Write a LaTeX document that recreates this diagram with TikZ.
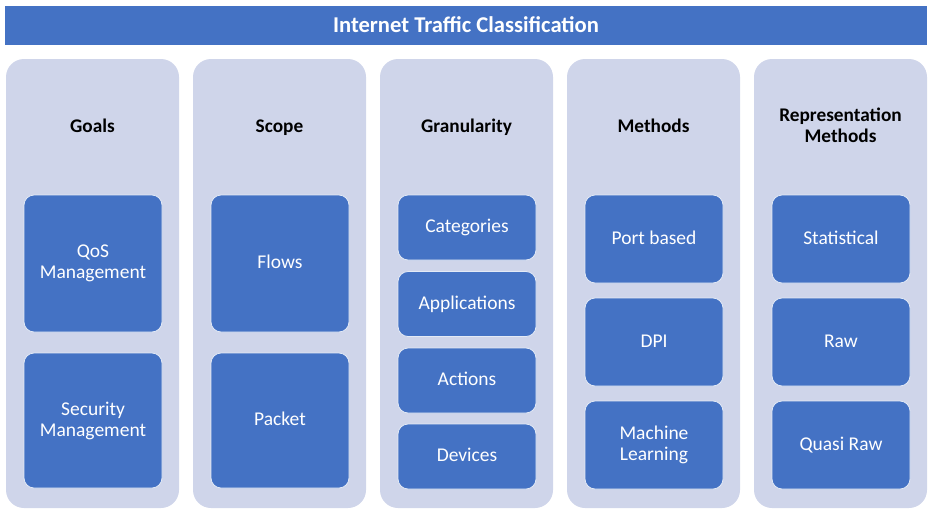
\documentclass[tikz,border=0pt]{standalone}
\usepackage{fontspec}
\setmainfont{Carlito}
\definecolor{barblue}{HTML}{4472C4}
\definecolor{panel}{HTML}{CFD5EA}
\begin{document}
\begin{tikzpicture}[x=1pt,y=-1pt,
  titlebar/.style={fill=barblue,draw=none,minimum width=922pt,minimum height=39pt,inner sep=0pt,text=white,font=\fontsize{22.6}{26}\selectfont\bfseries,text height=18.5pt,text depth=4pt},
  panelbox/.style={fill=panel,draw=none,rounded corners=18pt,minimum width=173pt,minimum height=449pt,inner sep=0pt},
  header/.style={align=center,font=\fontsize{19.3}{21}\selectfont\bfseries,text=black},
  hline/.style={text height=16.4pt,text depth=4pt},
  iline/.style={text height=14.3pt,text depth=4pt},
  item/.style={fill=barblue,draw=white!85!barblue,line width=0.8pt,rounded corners=10pt,minimum width=138pt,inner sep=0pt,align=center,text=white,font=\fontsize{19.5}{21}\selectfont}
]
\useasboundingbox (0,0) rectangle (928,509);
\node[titlebar] (title) at (466,25.5) {Internet Traffic Classification};

\foreach \n/\x in {c1/92.5,c2/279.5,c3/466.5,c4/653.5,c5/840.5}
  \node[panelbox] (\n) at (\x,283.5) {};

\node[header,hline] (h1) at (92.5,126) {Goals};
\node[header,hline] (h2) at (279.5,126) {Scope};
\node[header,hline] (h3) at (466.5,126) {Granularity};
\node[header,hline] (h4) at (653.5,126) {Methods};
\node[header] (h5) at (840.5,125.5) {Representation\\Methods};

\node[item,minimum height=137pt] (g1) at (93,263.5) {QoS\\Management};
\node[item,minimum height=135pt] (g2) at (93,420.5) {Security\\Management};

\node[item,iline,minimum height=137pt] (s1) at (280,263.5) {Flows};
\node[item,iline,minimum height=135pt] (s2) at (280,420.5) {Packet};

\node[item,iline,minimum height=65pt] (r1) at (467,227.5) {Categories};
\node[item,iline,minimum height=65pt] (r2) at (467,304) {Applications};
\node[item,iline,minimum height=65pt] (r3) at (467,380.5) {Actions};
\node[item,iline,minimum height=65pt] (r4) at (467,456.5) {Devices};

\node[item,iline,minimum height=88pt] (m1) at (654,239) {Port based};
\node[item,iline,minimum height=88pt] (m2) at (654,342) {DPI};
\node[item,minimum height=88pt] (m3) at (654,445) {Machine\\Learning};

\node[item,iline,minimum height=88pt] (p1) at (841,239) {Statistical};
\node[item,iline,minimum height=88pt] (p2) at (841,342) {Raw};
\node[item,iline,minimum height=88pt] (p3) at (841,445) {Quasi Raw};
\end{tikzpicture}
\end{document}
